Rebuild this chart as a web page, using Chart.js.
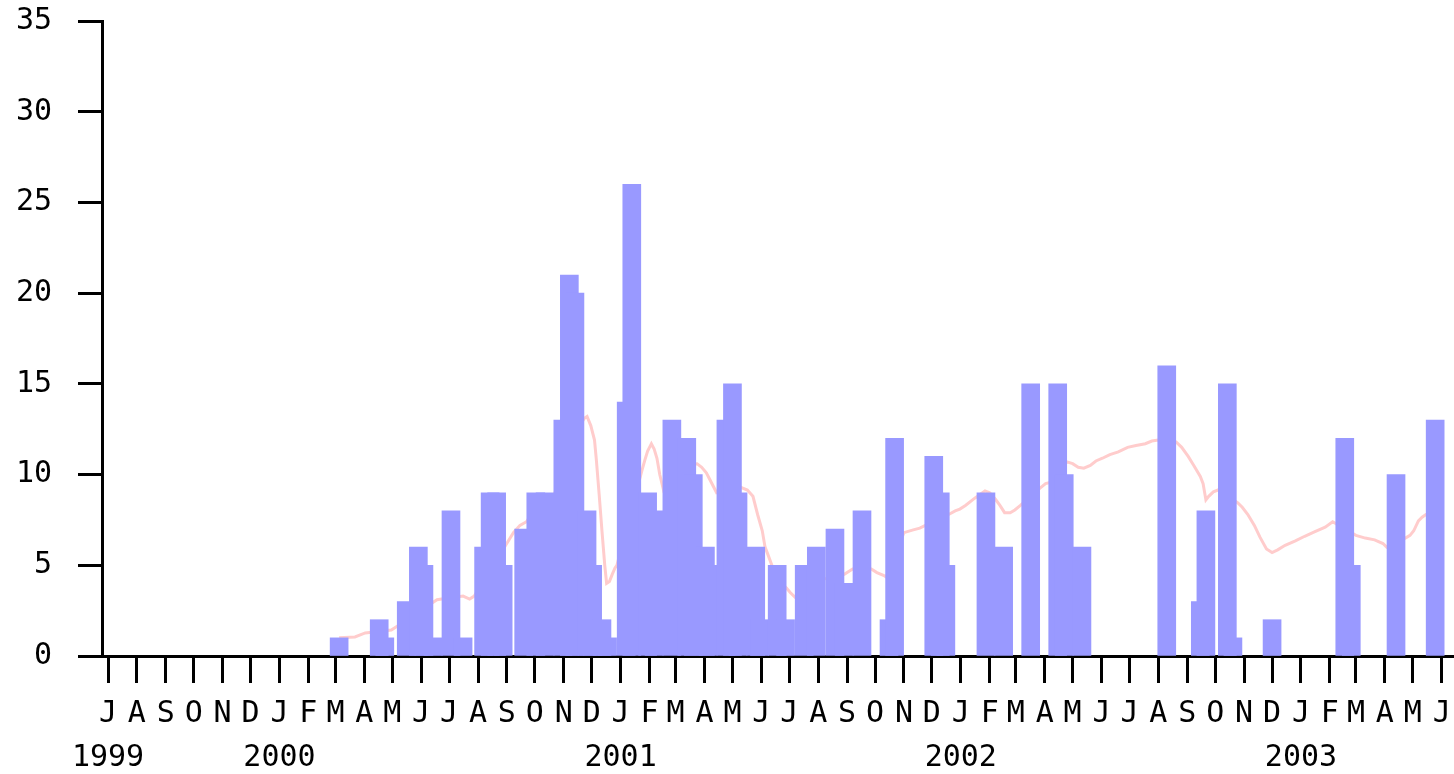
<!DOCTYPE html>
<html>
<head>
<meta charset="utf-8">
<script src="https://cdn.jsdelivr.net/npm/chart.js@4.4.1/dist/chart.umd.min.js"></script>
<style>
  html, body { margin: 0; padding: 0; background: #fff; }
  #wrap { width: 1454px; height: 774px; }
</style>
</head>
<body>
<div id="wrap"><canvas id="chart" width="1454" height="774"></canvas></div>
<script>
// Bars: day (counted from 1 Jul 1999) and count
const barDay = [248, 291, 297, 320, 333, 339, 349, 368, 381, 403,
  410, 417, 424, 446, 459, 469, 488, 495, 501, 514,
  520, 530, 536, 556, 562, 579, 586, 605, 621, 628,
  641, 644, 663, 670, 676, 695, 699, 718, 727, 747,
  760, 780, 790, 809, 838, 844, 886, 893, 899, 942,
  961, 990, 1019, 1026, 1045, 1136, 1172, 1178, 1201, 1207,
  1249, 1327, 1334, 1382, 1424];
const barCount = [1, 2, 1, 3, 6, 5, 1, 8, 1, 6,
  9, 9, 5, 7, 9, 9, 13, 21, 20, 8,
  5, 2, 1, 14, 26, 9, 8, 13, 12, 10,
  6, 5, 13, 15, 9, 6, 2, 5, 2, 5,
  6, 7, 4, 8, 2, 12, 11, 9, 5, 9,
  6, 15, 15, 10, 6, 16, 3, 8, 15, 1,
  2, 12, 5, 10, 13];

// Moving average line: day and value
const avgDay = [248, 265, 276, 304, 309, 353, 358, 381, 388, 393,
  429, 435, 442, 449, 464, 479, 496, 511, 514, 518,
  522, 524, 527, 530, 533, 535, 538, 541, 544, 546,
  573, 576, 579, 583, 586, 589, 592, 596, 614, 632,
  637, 642, 646, 650, 653, 679, 686, 692, 697, 702,
  705, 708, 718, 728, 732, 737, 764, 790, 796, 799,
  819, 825, 832, 835, 854, 864, 871, 877, 902, 909,
  914, 920, 930, 941, 946, 952, 957, 962, 968, 973,
  979, 1000, 1006, 1010, 1029, 1035, 1041, 1047, 1054, 1060,
  1067, 1075, 1084, 1094, 1103, 1113, 1120, 1127, 1146, 1152,
  1159, 1165, 1172, 1175, 1178, 1181, 1186, 1191, 1212, 1217,
  1223, 1230, 1236, 1243, 1249, 1255, 1263, 1274, 1284, 1295,
  1306, 1314, 1339, 1349, 1359, 1368, 1372, 1392, 1397, 1401,
  1406, 1410, 1414, 1419];
const avgValue = [1.0, 1.05, 1.27, 1.43, 1.6, 3.1, 3.14, 3.3, 3.14, 3.3,
  6.3, 6.8, 7.2, 7.4, 8.6, 8.9, 11.9, 13.1, 13.2, 12.7,
  11.9, 10.8, 8.9, 6.9, 5.0, 4.0, 4.1, 4.5, 4.85, 5.0,
  10.25, 10.8, 11.3, 11.7, 11.4, 10.9, 10.0, 9.15, 10.5, 10.6,
  10.4, 10.1, 9.7, 9.3, 9.0, 9.3, 9.15, 8.8, 7.8, 6.9,
  6.0, 5.6, 4.2, 3.75, 3.5, 3.25, 4.2, 4.5, 4.7, 4.8,
  4.8, 4.6, 4.45, 4.35, 6.8, 6.95, 7.05, 7.2, 7.8, 8.0,
  8.1, 8.3, 8.7, 9.1, 9.0, 8.65, 8.3, 7.9, 7.9, 8.05,
  8.3, 9.25, 9.5, 9.55, 10.7, 10.6, 10.4, 10.35, 10.5, 10.75,
  10.9, 11.1, 11.25, 11.5, 11.6, 11.7, 11.85, 11.9, 11.8, 11.5,
  11.0, 10.5, 9.9, 9.5, 8.6, 8.8, 9.05, 9.15, 8.45, 8.2,
  7.8, 7.2, 6.55, 5.9, 5.7, 5.85, 6.1, 6.35, 6.6, 6.85,
  7.1, 7.4, 6.65, 6.5, 6.4, 6.2, 6.0, 6.5, 6.65, 6.9,
  7.45, 7.65, 7.8, 7.9];

// Axis labels
const monthLetters = ['J', 'F', 'M', 'A', 'M', 'J', 'J', 'A', 'S', 'O', 'N', 'D'];
const yTicks = [0, 5, 10, 15, 20, 25, 30, 35];
const monthCount = 48; // Jul 1999 .. Jun 2003

// Month ticks (first day of every month) and their two-line labels
const start = Date.UTC(1999, 6, 1);
const tickDays = [];
const tickLabels = [];
for (let i = 0; i < monthCount; i++) {
  const d = new Date(Date.UTC(1999, 6 + i, 1));
  const m = d.getUTCMonth();
  tickDays.push((d - start) / 86400000);
  tickLabels.push([monthLetters[m], (i === 0 || m === 0) ? String(d.getUTCFullYear()) : '']);
}

const font = { family: 'DejaVu Sans Mono', size: 30 };

new Chart(document.getElementById('chart'), {
  type: 'bar',
  data: {
    datasets: [
      {
        type: 'bar',
        data: barDay.map((d, i) => ({ x: d, y: barCount[i] })),
        backgroundColor: '#9999ff',
        barThickness: 18,
        order: 0,
      },
      {
        type: 'line',
        data: avgDay.map((d, i) => ({ x: d, y: avgValue[i] })),
        borderColor: '#ffcccc',
        borderWidth: 3,
        pointRadius: 0,
        tension: 0,
        order: 1,
      },
    ],
  },
  options: {
    responsive: false,
    animation: false,
    layout: { padding: 0 },
    plugins: { legend: { display: false }, tooltip: { enabled: false } },
    scales: {
      x: {
        type: 'linear',
        min: -6.44,
        max: 1444.2,
        offset: false,
        afterFit: s => { s.height = 118; s.paddingLeft = 0; s.paddingRight = 0; },
        afterBuildTicks: s => { s.ticks = tickDays.map(v => ({ value: v })); },
        ticks: {
          autoSkip: false,
          maxRotation: 0,
          minRotation: 0,
          padding: 9,
          color: '#000',
          font: { ...font, lineHeight: 1.47 },
          callback: (v, i) => tickLabels[i],
        },
        grid: { offset: false, drawOnChartArea: false, tickLength: 27, tickWidth: 3, tickColor: '#000' },
        border: { display: true, color: '#000', width: 3 },
      },
      y: {
        min: 0,
        max: 35,
        afterFit: s => { s.width = 102; s.paddingTop = 21; s.paddingBottom = 0; },
        afterBuildTicks: s => { s.ticks = yTicks.map(v => ({ value: v })); },
        ticks: { padding: 26, color: '#000', font: { ...font, lineHeight: 1.2 } },
        grid: { drawOnChartArea: false, tickLength: 24, tickWidth: 3, tickColor: '#000' },
        border: { display: true, color: '#000', width: 3 },
      },
    },
  },
});
</script>
</body>
</html>
